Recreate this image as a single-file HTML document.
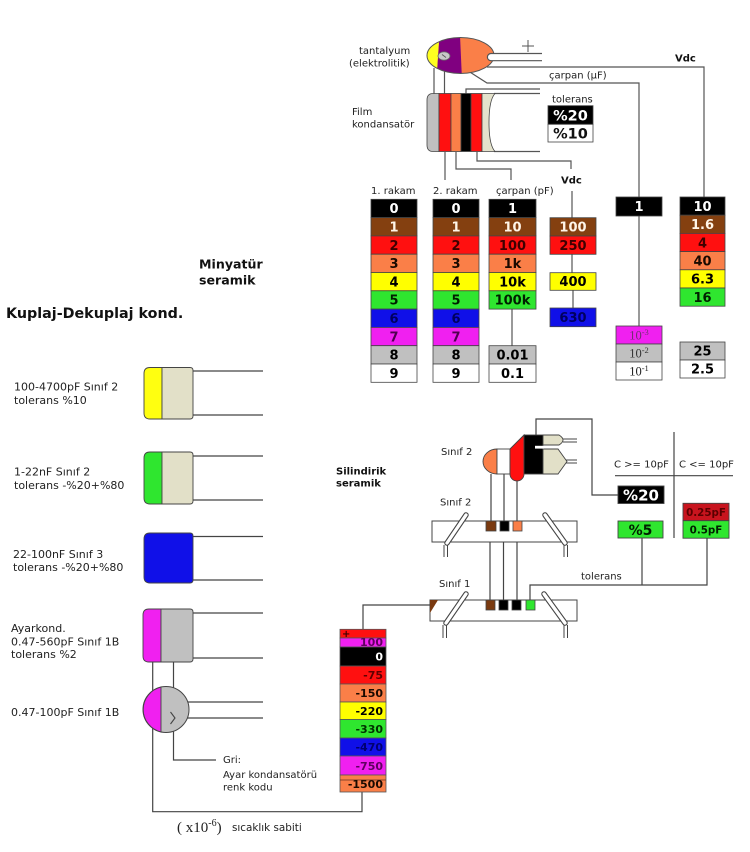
<!DOCTYPE html>
<html><head><meta charset="utf-8"><style>
html,body{margin:0;padding:0;background:#fff;}
svg{display:block;}
</style></head><body>
<svg width="750" height="852" viewBox="0 0 750 852" xmlns="http://www.w3.org/2000/svg" font-family="'DejaVu Sans', Verdana, sans-serif">
<rect width="750" height="852" fill="#fff"/>
<defs>
<clipPath id="tc"><ellipse cx="460.5" cy="55.5" rx="33.5" ry="18"/></clipPath>
</defs>

<!-- ===== connectors top ===== -->
<g stroke="#555" stroke-width="1.2" fill="none">
<line x1="434" y1="68" x2="434" y2="94"/>
<line x1="444.5" y1="60" x2="444.5" y2="94"/>
<polyline points="487,67 704,67 704,197"/>
<polyline points="462,67 487,83 639,83 639,197"/>
<line x1="639" y1="216" x2="639" y2="326"/>
<polyline points="466,94 466,89 540,89"/>
<line x1="445" y1="152" x2="445" y2="180"/>
<polyline points="456,152 456,169 511,169 511,180"/>
<polyline points="477,152 477,161 571,161 571,169"/>
<line x1="572" y1="191" x2="572" y2="218"/>
<line x1="572" y1="254" x2="572" y2="273"/>
<line x1="573" y1="290" x2="573" y2="308"/>
<line x1="512" y1="309" x2="512" y2="346"/>
<line x1="494" y1="93.5" x2="540" y2="93.5"/>
<line x1="494" y1="151.5" x2="540" y2="151.5"/>
<line x1="522" y1="46" x2="534" y2="46" stroke-width="1"/>
<line x1="528" y1="40" x2="528" y2="52" stroke-width="1"/>
</g>

<!-- tantalum -->
<g clip-path="url(#tc)">
<rect x="420" y="35" width="90" height="45" fill="#fa7f48"/>
<path d="M420,35 L439.5,35 L436.5,80 L420,80 Z" fill="#ffff20"/>
<path d="M439.5,35 L460,35 L462,80 L436.5,80 Z" fill="#800080"/>
</g>
<ellipse cx="460.5" cy="55.5" rx="33.5" ry="18" fill="none" stroke="#555" stroke-width="1"/>
<ellipse cx="444" cy="56" rx="6" ry="4.2" fill="#c8c8c8" stroke="#666" stroke-width="0.8"/>
<line x1="442" y1="54.5" x2="446" y2="57.5" stroke="#555" stroke-width="0.8"/>
<path d="M491,53.5 L496,53.5 L496,60.7 L491,60.7 A3.6,3.6 0 0 1 491,53.5 Z" fill="#fff"/>
<path d="M542,53.5 L491,53.5 A3.6,3.6 0 0 0 491,60.7 L542,60.7" fill="none" stroke="#555" stroke-width="1.2"/>

<!-- film capacitor -->
<g stroke="#444" stroke-width="0.8">
<path d="M439,93.5 L433,93.5 Q427,93.5 427,100 L427,145 Q427,151.5 433,151.5 L439,151.5 Z" fill="#c0c0c0"/>
<rect x="439" y="93.5" width="12" height="58" fill="#ff1010"/>
<rect x="451" y="93.5" width="10" height="58" fill="#fa7f48"/>
<rect x="461" y="93.5" width="10" height="58" fill="#000"/>
<rect x="471" y="93.5" width="11" height="58" fill="#ff1010"/>
<path d="M482,93.5 L495,93.5 Q489,100 489,122.5 Q489,145 495,151.5 L482,151.5 Z" fill="#e4e2cc"/>
</g>

<!-- top texts -->
<g font-size="10" fill="#222">
<text x="359" y="54">tantalyum</text>
<text x="349" y="66.5">(elektrolitik)</text>
<text x="352" y="115">Film</text>
<text x="352" y="127.5">kondansatör</text>
<text x="549" y="78.5">çarpan (µF)</text>
<text x="552" y="102.5">tolerans</text>
<text x="371" y="194">1. rakam</text>
<text x="433" y="194">2. rakam</text>
<text x="496" y="194">çarpan (pF)</text>
</g>
<g font-size="10" font-weight="bold" fill="#111">
<text x="675" y="61.5">Vdc</text>
<text x="561" y="183.5">Vdc</text>
</g>

<!-- tolerance boxes film -->
<rect x="548" y="105.7" width="45" height="18.6" fill="#000" stroke="#444" stroke-width="0.8"/>
<rect x="548" y="124.3" width="45" height="17.7" fill="#fff" stroke="#444" stroke-width="0.8"/>
<g font-size="14.5" font-weight="bold" text-anchor="middle">
<text x="570.5" y="120.3" fill="#fff">%20</text>
<text x="570.5" y="138.5" fill="#111">%10</text>
</g>

<!-- ===== tables ===== -->
<g stroke="#444" stroke-width="0.8">
<rect x="371" y="199.3" width="46" height="18.3" fill="#000"/>
<rect x="371" y="217.6" width="46" height="18.3" fill="#844010"/>
<rect x="371" y="235.9" width="46" height="18.3" fill="#ff1010"/>
<rect x="371" y="254.2" width="46" height="18.3" fill="#fa7f48"/>
<rect x="371" y="272.5" width="46" height="18.3" fill="#ffff00"/>
<rect x="371" y="290.8" width="46" height="18.3" fill="#2fe62f"/>
<rect x="371" y="309.1" width="46" height="18.3" fill="#1010e8"/>
<rect x="371" y="327.4" width="46" height="18.3" fill="#f020f0"/>
<rect x="371" y="345.7" width="46" height="18.3" fill="#c0c0c0"/>
<rect x="371" y="364.0" width="46" height="18.3" fill="#fff"/>
<rect x="433" y="199.3" width="46" height="18.3" fill="#000"/>
<rect x="433" y="217.6" width="46" height="18.3" fill="#844010"/>
<rect x="433" y="235.9" width="46" height="18.3" fill="#ff1010"/>
<rect x="433" y="254.2" width="46" height="18.3" fill="#fa7f48"/>
<rect x="433" y="272.5" width="46" height="18.3" fill="#ffff00"/>
<rect x="433" y="290.8" width="46" height="18.3" fill="#2fe62f"/>
<rect x="433" y="309.1" width="46" height="18.3" fill="#1010e8"/>
<rect x="433" y="327.4" width="46" height="18.3" fill="#f020f0"/>
<rect x="433" y="345.7" width="46" height="18.3" fill="#c0c0c0"/>
<rect x="433" y="364.0" width="46" height="18.3" fill="#fff"/>
<rect x="489" y="199.3" width="47" height="18.3" fill="#000"/>
<rect x="489" y="217.6" width="47" height="18.3" fill="#844010"/>
<rect x="489" y="235.9" width="47" height="18.3" fill="#ff1010"/>
<rect x="489" y="254.2" width="47" height="18.3" fill="#fa7f48"/>
<rect x="489" y="272.5" width="47" height="18.3" fill="#ffff00"/>
<rect x="489" y="290.8" width="47" height="18.3" fill="#2fe62f"/>
<rect x="489" y="345.7" width="47" height="18.3" fill="#c0c0c0"/>
<rect x="489" y="364.0" width="47" height="18.3" fill="#fff"/>
<rect x="550" y="217.7" width="46" height="18.3" fill="#844010"/>
<rect x="550" y="236" width="46" height="18.3" fill="#ff1010"/>
<rect x="550" y="272.7" width="46" height="17.6" fill="#ffff00"/>
<rect x="550" y="308" width="46" height="18.7" fill="#1010e8"/>
<rect x="616" y="197" width="46" height="19" fill="#000"/>
<rect x="616" y="326" width="46" height="18" fill="#f020f0"/>
<rect x="616" y="344" width="46" height="18" fill="#c0c0c0"/>
<rect x="616" y="362" width="46" height="18" fill="#fff"/>
<rect x="680" y="197" width="45" height="18.2" fill="#000"/>
<rect x="680" y="215.2" width="45" height="18.2" fill="#844010"/>
<rect x="680" y="233.4" width="45" height="18.2" fill="#ff1010"/>
<rect x="680" y="251.6" width="45" height="18.2" fill="#fa7f48"/>
<rect x="680" y="269.8" width="45" height="18.2" fill="#ffff00"/>
<rect x="680" y="288" width="45" height="18.2" fill="#2fe62f"/>
<rect x="680" y="342" width="45" height="18" fill="#c0c0c0"/>
<rect x="680" y="360" width="45" height="18" fill="#fff"/>
</g>

<g font-size="13" font-weight="bold" text-anchor="middle">
<text x="394" y="213.2" fill="#fff">0</text>
<text x="394" y="231.5" fill="#fff5e8">1</text>
<text x="394" y="249.8" fill="#400000">2</text>
<text x="394" y="268.1" fill="#1a0a00">3</text>
<text x="394" y="286.4" fill="#000">4</text>
<text x="394" y="304.7" fill="#002000">5</text>
<text x="394" y="323.0" fill="#000060">6</text>
<text x="394" y="341.3" fill="#500050">7</text>
<text x="394" y="359.6" fill="#000">8</text>
<text x="394" y="377.9" fill="#000">9</text>

<text x="456" y="213.2" fill="#fff">0</text>
<text x="456" y="231.5" fill="#fff5e8">1</text>
<text x="456" y="249.8" fill="#400000">2</text>
<text x="456" y="268.1" fill="#1a0a00">3</text>
<text x="456" y="286.4" fill="#000">4</text>
<text x="456" y="304.7" fill="#002000">5</text>
<text x="456" y="323.0" fill="#000060">6</text>
<text x="456" y="341.3" fill="#500050">7</text>
<text x="456" y="359.6" fill="#000">8</text>
<text x="456" y="377.9" fill="#000">9</text>

<text x="512.5" y="213.2" fill="#fff">1</text>
<text x="512.5" y="231.5" fill="#fff5e8">10</text>
<text x="512.5" y="249.8" fill="#400000">100</text>
<text x="512.5" y="268.1" fill="#1a0a00">1k</text>
<text x="512.5" y="286.4" fill="#000">10k</text>
<text x="512.5" y="304.7" fill="#002000">100k</text>
<text x="512.5" y="359.6" fill="#000">0.01</text>
<text x="512.5" y="377.9" fill="#000">0.1</text>

<text x="573" y="231.6" fill="#fff5e8">100</text>
<text x="573" y="249.9" fill="#400000">250</text>
<text x="573" y="286.2" fill="#000">400</text>
<text x="573" y="322" fill="#000060">630</text>

<text x="639" y="211.2" fill="#fff">1</text>

<text x="702.5" y="210.9" fill="#fff">10</text>
<text x="702.5" y="229.1" fill="#fff5e8">1.6</text>
<text x="702.5" y="247.3" fill="#400000">4</text>
<text x="702.5" y="265.5" fill="#1a0a00">40</text>
<text x="702.5" y="283.7" fill="#000">6.3</text>
<text x="702.5" y="301.9" fill="#002000">16</text>
<text x="702.5" y="355.6" fill="#000">25</text>
<text x="702.5" y="373.6" fill="#000">2.5</text>
</g>
<g font-family="'Liberation Serif', serif" font-size="12.5" text-anchor="middle">
<text x="639" y="339.5" fill="#703070">10<tspan dy="-4.5" font-size="8.5">-3</tspan></text>
<text x="639" y="357.5" fill="#333">10<tspan dy="-4.5" font-size="8.5">-2</tspan></text>
<text x="639" y="375.5" fill="#222">10<tspan dy="-4.5" font-size="8.5">-1</tspan></text>
</g>

<!-- ===== left side ===== -->
<g font-weight="bold" fill="#111">
<text x="199" y="268.5" font-size="12.6">Minyatür</text>
<text x="199" y="284.5" font-size="12.6">seramik</text>
<text x="6" y="318" font-size="14.3">Kuplaj-Dekuplaj kond.</text>
<text x="336" y="474.5" font-size="10">Silindirik</text>
<text x="336" y="486.5" font-size="10">seramik</text>
</g>

<g font-size="11" fill="#222">
<text x="14" y="390.5">100-4700pF Sınıf 2</text>
<text x="14" y="404">tolerans %10</text>
<text x="14" y="475.5">1-22nF Sınıf 2</text>
<text x="14" y="489">tolerans -%20+%80</text>
<text x="13" y="558">22-100nF Sınıf 3</text>
<text x="13" y="571">tolerans -%20+%80</text>
<text x="11" y="632">Ayarkond.</text>
<text x="11" y="645.5">0.47-560pF Sınıf 1B</text>
<text x="11" y="658">tolerans %2</text>
<text x="11" y="716">0.47-100pF Sınıf 1B</text>
</g>

<g stroke="#444" stroke-width="1.2" fill="none">
<line x1="193" y1="371" x2="263" y2="371"/>
<line x1="193" y1="415" x2="263" y2="415"/>
<line x1="193" y1="456" x2="263" y2="456"/>
<line x1="193" y1="500" x2="263" y2="500"/>
<line x1="193" y1="536.5" x2="263" y2="536.5"/>
<line x1="193" y1="580" x2="263" y2="580"/>
<line x1="193" y1="613" x2="263" y2="613"/>
<line x1="193" y1="658" x2="263" y2="658"/>
<line x1="187" y1="702" x2="263" y2="702"/>
<line x1="175" y1="718" x2="263" y2="718"/>
<line x1="173.5" y1="662" x2="173.5" y2="688"/>
<polyline points="173.5,731 173.5,760 216,760"/>
<polyline points="152.7,662 152.7,811.7 362,811.7 362,792"/>
<polyline points="363,629 363,605 430,605"/>
</g>

<!-- mini caps -->
<g stroke="#444" stroke-width="0.9">
<path d="M162,367.5 L150,367.5 Q144,367.5 144,373.5 L144,413 Q144,419 150,419 L162,419 Z" fill="#ffff10"/>
<path d="M162,367.5 L190,367.5 Q193,367.5 193,370.5 L193,416 Q193,419 190,419 L162,419 Z" fill="#e2e0c8"/>
<path d="M162,452 L150,452 Q144,452 144,458 L144,498 Q144,504 150,504 L162,504 Z" fill="#2fe62f"/>
<path d="M162,452 L190,452 Q193,452 193,455 L193,501 Q193,504 190,504 L162,504 Z" fill="#e2e0c8"/>
<path d="M150,533 L190,533 Q193,533 193,536 L193,580 Q193,583 190,583 L150,583 Q144,583 144,577 L144,539 Q144,533 150,533 Z" fill="#1010e8"/>
<path d="M161,609 L149,609 Q143,609 143,615 L143,656 Q143,662 149,662 L161,662 Z" fill="#f020f0"/>
<path d="M161,609 L190,609 Q193,609 193,612 L193,659 Q193,662 190,662 L161,662 Z" fill="#c0c0c0"/>
</g>
<!-- disc cap -->
<circle cx="166" cy="709.5" r="23" fill="#c0c0c0" stroke="#444" stroke-width="1"/>
<path d="M161,687.1 A23,23 0 0 0 161,731.9 Z" fill="#f020f0" stroke="#444" stroke-width="0.9"/>
<g stroke="#444" stroke-width="1.1" fill="none">
<polyline points="170.5,712 175,718 170.5,724"/>
</g>

<g font-size="10" fill="#222">
<text x="223" y="763">Gri:</text>
<text x="223" y="778">Ayar kondansatörü</text>
<text x="223" y="790.5">renk kodu</text>
</g>

<!-- temperature table -->
<g stroke="#555" stroke-width="0.8">
<rect x="340" y="629.3" width="46" height="8.7" fill="#ff1010"/>
<rect x="340" y="638" width="46" height="9" fill="#f020f0"/>
<rect x="340" y="647" width="46" height="19" fill="#000"/>
<rect x="340" y="666" width="46" height="18" fill="#ff1010"/>
<rect x="340" y="684" width="46" height="18" fill="#fa7f48"/>
<rect x="340" y="702" width="46" height="17.5" fill="#ffff00"/>
<rect x="340" y="719.5" width="46" height="18.5" fill="#2fe62f"/>
<rect x="340" y="738" width="46" height="18" fill="#1010e8"/>
<rect x="340" y="756" width="46" height="19" fill="#f020f0"/>
<rect x="340" y="775" width="46" height="17" fill="#fa7f48"/>
</g>
<line x1="340" y1="780" x2="386" y2="780" stroke="#663322" stroke-width="0.8"/>
<g font-size="11" font-weight="bold" text-anchor="end">
<text x="383" y="646" fill="#600060">100</text>
<text x="383" y="660.5" fill="#fff">0</text>
<text x="383" y="679" fill="#600000">-75</text>
<text x="383" y="697" fill="#1a0a00">-150</text>
<text x="383" y="715" fill="#000">-220</text>
<text x="383" y="733" fill="#003000">-330</text>
<text x="383" y="751" fill="#000070">-470</text>
<text x="383" y="770" fill="#600060">-750</text>
<text x="383" y="788" fill="#1a0a00">-1500</text>
</g>
<text x="342" y="637" font-size="10" font-weight="bold" fill="#400000">+</text>

<!-- sıcaklık sabiti -->
<text x="177" y="832" font-family="'Liberation Serif', serif" font-size="15" fill="#222">( x10<tspan dy="-6" font-size="10">-6</tspan><tspan dy="6">)</tspan></text>
<text x="232" y="831" font-size="10.4" fill="#222">sıcaklık sabiti</text>

<!-- ===== cylindrical ceramic ===== -->
<g font-size="10" fill="#222">
<text x="441" y="455">Sınıf 2</text>
<text x="440" y="505.5">Sınıf 2</text>
<text x="439" y="587">Sınıf 1</text>
<text x="581" y="579.5">tolerans</text>
<text x="614" y="467.5">C &gt;= 10pF</text>
<text x="679" y="467.5">C &lt;= 10pF</text>
</g>

<g stroke="#444" stroke-width="1.2" fill="none">
<polyline points="536,435 536,419 592,419 592,495 618,495"/>
<line x1="491" y1="474" x2="491" y2="521"/>
<line x1="504" y1="474" x2="504" y2="521"/>
<line x1="517" y1="481" x2="517" y2="521"/>
<line x1="490" y1="542" x2="490" y2="600"/>
<line x1="503.5" y1="542" x2="503.5" y2="600"/>
<line x1="517" y1="542" x2="517" y2="600"/>
<polyline points="530,600 530,585 707,585 707,538"/>
<line x1="642" y1="585" x2="642" y2="538"/>
<line x1="615" y1="475.7" x2="733" y2="475.7"/>
<line x1="674" y1="432" x2="674" y2="538"/>
<line x1="563" y1="439" x2="577" y2="439" stroke-width="1"/>
<line x1="563" y1="442" x2="577" y2="442" stroke-width="1"/>
<line x1="565" y1="460" x2="577" y2="460" stroke-width="1"/>
<line x1="565" y1="463" x2="577" y2="463" stroke-width="1"/>
</g>

<!-- upper Sınıf 2 capacitor -->
<g stroke="#444" stroke-width="0.9">
<path d="M497,449 A14,12.5 0 0 0 497,474 Z" fill="#fa7f48"/>
<rect x="497" y="449" width="13" height="25" fill="#fff"/>
<path d="M510,449 L524,435 L524,474 A7,7 0 0 1 510,474 Z" fill="#ff1010"/>
<rect x="524" y="435" width="19" height="39" fill="#000"/>
<path d="M543,435 L559,435 Q567,440 559,445 L543,445 Z" fill="#e2e0c8"/>
<path d="M543,449 L558,449 L567,461.5 L558,474 L543,474 Z" fill="#e2e0c8"/>
</g>
<rect x="535" y="445.8" width="9" height="2.8" fill="#fff"/>

<!-- boards -->
<rect x="432" y="521" width="145" height="21" fill="#fff" stroke="#444" stroke-width="1"/>
<rect x="430" y="600" width="147" height="21" fill="#fff" stroke="#444" stroke-width="1"/>
<path d="M430,600 L438,600 L430,613 Z" fill="#7a3a10"/>

<!-- leads (capsules) -->
<g stroke-linecap="round" fill="none">
<g stroke="#444" stroke-width="5.5">
<line x1="466" y1="515" x2="447" y2="543"/>
<line x1="545" y1="515" x2="565" y2="543"/>
<line x1="466" y1="594" x2="446" y2="623"/>
<line x1="544" y1="594" x2="565" y2="623"/>
</g>
<g stroke="#fff" stroke-width="3.3">
<line x1="466" y1="515" x2="447" y2="543"/>
<line x1="545" y1="515" x2="565" y2="543"/>
<line x1="466" y1="594" x2="446" y2="623"/>
<line x1="544" y1="594" x2="565" y2="623"/>
</g>
</g>
<g stroke="#444" stroke-width="1">
<line x1="444" y1="545" x2="444" y2="557"/>
<line x1="447.5" y1="545" x2="447.5" y2="557"/>
<line x1="564" y1="545" x2="564" y2="557"/>
<line x1="567.5" y1="545" x2="567.5" y2="557"/>
<line x1="443" y1="625" x2="443" y2="638"/>
<line x1="446.5" y1="625" x2="446.5" y2="638"/>
<line x1="564" y1="625" x2="564" y2="638"/>
<line x1="567.5" y1="625" x2="567.5" y2="638"/>
</g>

<!-- squares -->
<g stroke="#444" stroke-width="0.8">
<rect x="486" y="521" width="10" height="10" fill="#7a3a10"/>
<rect x="500" y="521" width="9" height="10" fill="#000"/>
<rect x="513" y="521" width="9" height="10" fill="#fa7f48"/>
<rect x="486" y="600" width="9" height="10" fill="#7a3a10"/>
<rect x="499" y="600" width="9" height="10" fill="#000"/>
<rect x="512" y="600" width="9" height="10" fill="#000"/>
<rect x="526" y="600" width="9" height="10" fill="#2fe62f"/>
</g>

<!-- tolerance boxes cylindrical -->
<g stroke="#444" stroke-width="0.9">
<rect x="618" y="486" width="46" height="17.5" fill="#000"/>
<rect x="618" y="521" width="45" height="17" fill="#2fe62f"/>
<rect x="683" y="503.3" width="46" height="17.4" fill="#c8141e"/>
<rect x="683" y="520.7" width="46" height="17.5" fill="#2fe62f"/>
</g>
<g font-weight="bold" text-anchor="middle">
<text x="641" y="500.5" font-size="15" fill="#fff">%20</text>
<text x="640.5" y="534.8" font-size="14" fill="#002000">%5</text>
<text x="706" y="516" font-size="10.3" fill="#5a0000">0.25pF</text>
<text x="706" y="533.5" font-size="10.3" fill="#002000">0.5pF</text>
</g>

</svg>
</body></html>
